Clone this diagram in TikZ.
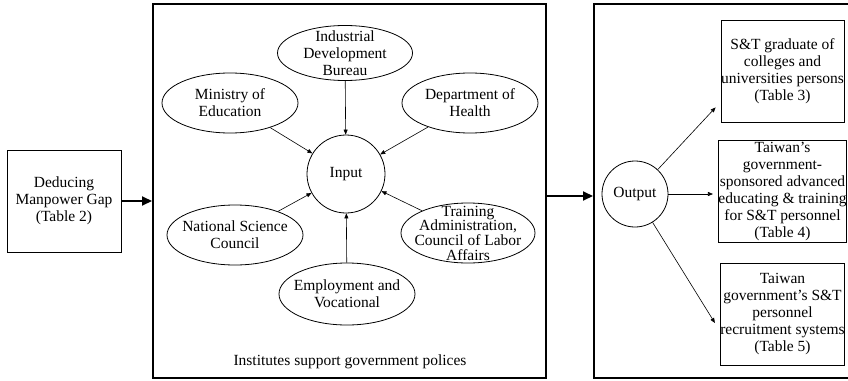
\documentclass[tikz,border=0pt]{standalone}
\usepackage{fontspec}
\setmainfont{Liberation Serif}
\usetikzlibrary{calc}
\usetikzlibrary{arrows.meta}
\usetikzlibrary{shapes.geometric}

\tikzset{
    org/.style={draw, ellipse, line width=0.8pt, minimum width=136pt, minimum height=60pt},
    outcome/.style={draw, line width=0.8pt, inner sep=0pt, align=center, minimum width=123pt, minimum height=102pt},
    frame/.style={draw, line width=2pt, inner sep=0pt},
    feed/.style={-{Triangle[length=5pt,width=4pt]}, line width=0.6pt},
    bigarrow/.style={-{Triangle[length=10pt,width=9pt]}, line width=2pt},
}

\begin{document}
\begin{tikzpicture}[x=1pt, y=-1pt, every node/.style={font=\fontsize{15.5}{17}\selectfont}]
    \useasboundingbox (0,0) rectangle (848,380);
    % frames
    \node[frame, minimum width=393pt, minimum height=374pt] (inst) at (349.5,191) {};
    \node[frame, minimum width=258pt, minimum height=374pt] (outbox) at (723,191) {};
    \node[draw, line width=0.8pt, align=center, minimum width=114pt, minimum height=102pt] (gap) at (64,201) {Deducing\\Manpower Gap\\(Table 2)};
    % institutes
    \node[draw, circle, line width=0.8pt, minimum size=78pt] (input) at (346,174) {Input};
    \node[org, minimum width=135pt, minimum height=55pt] (idb) at (345,53) {};
    \node[align=center] (idb-t) at (idb) {Industrial\\Development\\Bureau};
    \node[org] (edu) at (230,103) {};
    \node[align=center] (edu-t) at (edu) {Ministry of\\Education};
    \node[org] (doh) at (470,103) {};
    \node[align=center] (doh-t) at (doh) {Department of\\Health};
    \node[org] (nsc) at (235,235) {};
    \node[align=center] (nsc-t) at (nsc) {National Science\\Council};
    \node[org, minimum height=62pt] (evt) at (347,294) {};
    \node[align=center] (evt-t) at (evt) {Employment and\\Vocational};
    \node[org, minimum width=134pt] (tra) at (468,233) {};
    \node[align=center, font=\fontsize{15.5}{14.7}\selectfont] (tra-t) at (tra) {Training\\Administration,\\Council of Labor\\Affairs};
    \foreach \src in {idb,edu,doh,nsc,evt,tra}
        \draw[feed] (\src) -- (input);
    \node (polices) at (350,362) {Institutes support government polices};
    % outcomes
    \node[draw, circle, line width=0.8pt, minimum size=66pt, inner sep=0pt] (output) at (635,194) {Output};
    \node[outcome] (out1) at (782.5,71) {S\&T graduate of\\colleges and\\universities persons\\(Table 3)};
    \node[outcome] (out2) at (782.5,191.5) {Taiwan's\\government-\\sponsored advanced\\educating \& training\\for S\&T personnel\\(Table 4)};
    \node[outcome] (out3) at (782.5,314) {Taiwan\\government's S\&T\\personnel\\recruitment systems\\(Table 5)};
    \draw[feed] (output) -- ($(out1.south west)+(-5,-15)$);
    \draw[feed] (output) -- ($(output -| out2.west)+(-5,0)$);
    \draw[feed] (output) -- ($(out3.west)+(-5,9)$);
    % flow between stages
    \draw[bigarrow] (gap.east) -- (gap.east -| inst.west);
    \draw[bigarrow] ($(inst.east)+(0,5)$) -- ($(outbox.west)+(0,5)$);
\end{tikzpicture}
\end{document}
